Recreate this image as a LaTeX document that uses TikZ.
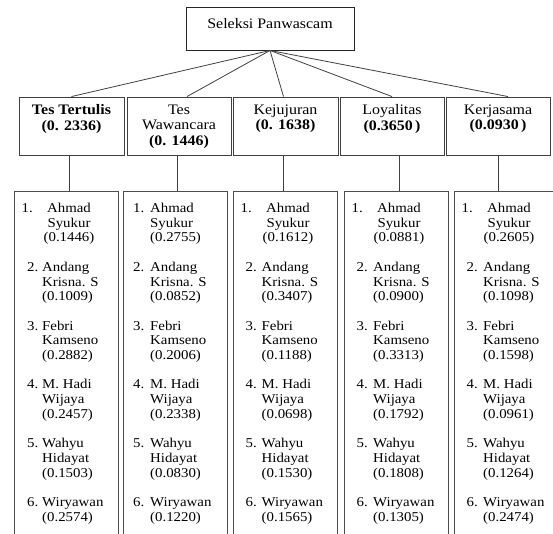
\documentclass[tikz,border=0pt]{standalone}
\usepackage{fontspec}
\setmainfont{Liberation Serif}[FakeStretch=1.1]
\usetikzlibrary{calc}
\tikzset{
  topbox/.style={draw=black!85, line width=0.9pt, inner sep=0pt, minimum width=168pt, minimum height=43pt},
  critbox/.style={draw=black!75, line width=0.9pt, inner sep=0pt, minimum height=58pt},
  listbox/.style={draw=black!70, line width=1.3pt, inner sep=0pt, minimum width=104pt, minimum height=360pt, anchor=north west},
  conn/.style={draw=black!75, line width=0.8pt},
  crittext/.style={inner sep=0pt, align=center, anchor=north, font=\fontsize{14.5}{15.5}\selectfont},
  lt/.style={inner sep=0pt, font=\fontsize{13.5}{16}\selectfont}
}
% items from a start index, 3 lines each
\newcommand\colitems[6]{%
  \foreach \a/\b/\cc [count=\i from #5] in {#6} {
    \pgfmathsetmacro\yy{212.5+(\i-1)*58.8}
    \node[lt, anchor=base west] (c#1n\i) at (#2+#3,\yy) {\i.};
    \node[lt, anchor=base west] (c#1a\i) at (#2+#4,\yy) {\a};
    \node[lt, anchor=base west] (c#1b\i) at (#2+#4,\yy+14.7) {\b};
    \node[lt, anchor=base west] (c#1c\i) at (#2+#4,\yy+29.4) {\cc};
  }%
}
\newcommand\firstcentered[5]{%
  \node[lt, anchor=base west] (c#1n1) at (#2+7.5,212.5) {1.};
  \node[lt, anchor=base] (c#1a1) at (#2+55,212.5) {#3};
  \node[lt, anchor=base] (c#1b1) at (#2+55,227.2) {#4};
  \node[lt, anchor=base] (c#1c1) at (#2+55,241.9) {#5};
}
\newcommand\lastitem[5]{%
  \node[lt, anchor=base west] (c#1n6) at (#2+#3,506.5) {6.};
  \node[lt, anchor=base west] (c#1a6) at (#2+#4,506.5) {Wiryawan};
  \node[lt, anchor=base west] (c#1b6) at (#2+#4,521.2) {#5};
}
\begin{document}
\begin{tikzpicture}[x=1pt,y=-1pt]
\clip (0,0) rectangle (553,533);
\useasboundingbox (0,0) rectangle (553,533);

% top
\node[topbox] (top) at (270,28.5) {};
\node[crittext, font=\fontsize{14.5}{15.5}\selectfont] (toptext) at ($(top.north)+(0,12)$) {Seleksi Panwascam};

% criteria boxes
\node[critbox, minimum width=105pt] (k1) at (71.5,126) {};
\node[critbox, minimum width=104pt] (k2) at (179,126) {};
\node[critbox, minimum width=105pt] (k3) at (285.5,126) {};
\node[critbox, minimum width=104pt] (k4) at (392,126) {};
\node[critbox, minimum width=104pt] (k5) at (498,126) {};

\node[crittext] (kt1) at ($(k1.north)+(0,8)$) {\bfseries Tes Tertulis\\\bfseries (0. 2336)};
\node[crittext] (kt2) at ($(k2.north)+(0,8)$) {Tes\\Wawancara\\\bfseries (0. 1446)};
\node[crittext] (kt3) at ($(k3.north)+(0,8)$) {Kejujuran\\\bfseries (0. 1638)};
\node[crittext] (kt4) at ($(k4.north)+(0,8)$) {Loyalitas\\\bfseries (0.3650\,)};
\node[crittext] (kt5) at ($(k5.north)+(0,8)$) {Kerjasama\\\bfseries (0.0930\,)};

% connectors from top
\draw[conn] (top.south) -- (k1.north);
\draw[conn] (top.south) -- ($(k2.north)+(8,0)$);
\draw[conn] (top.south) -- ($(k3.north)+(-2,0)$);
\draw[conn] (top.south) -- (k4.north);
\draw[conn] (top.south) -- ($(k5.north)+(10,0)$);

% list boxes
\node[listbox] (l1) at (14,191) {};
\node[listbox] (l2) at (123,191) {};
\node[listbox] (l3) at (233,191) {};
\node[listbox] (l4) at (344,191) {};
\node[listbox] (l5) at (454,191) {};

% vertical connectors
\coordinate (v1) at ($(k1.south)+(-2.5,0)$);
\coordinate (v2) at ($(k2.south)+(-2,0)$);
\coordinate (v3) at ($(k3.south)+(-2.5,0)$);
\coordinate (v4) at ($(k4.south)+(7,0)$);
\coordinate (v5) at ($(k5.south)+(0,0)$);
\draw[conn] (v1) -- (v1 |- l1.north);
\draw[conn] (v2) -- (v2 |- l2.north);
\draw[conn] (v3) -- (v3 |- l3.north);
\draw[conn] (v4) -- (v4 |- l4.north);
\draw[conn] (v5) -- (v5 |- l5.north);

% column 1
\firstcentered{1}{14}{Ahmad}{Syukur}{(0.1446)}
\colitems{1}{14}{13}{28}{2}{Andang/Krisna. S/(0.1009), Febri/Kamseno/(0.2882), M. Hadi/Wijaya/(0.2457), Wahyu/Hidayat/(0.1503)}
\lastitem{1}{14}{13}{28}{(0.2574)}

% column 2
\colitems{2}{123}{10}{27}{1}{Ahmad/Syukur/(0.2755), Andang/Krisna. S/(0.0852), Febri/Kamseno/(0.2006), M. Hadi/Wijaya/(0.2338), Wahyu/Hidayat/(0.0830)}
\lastitem{2}{123}{10}{27}{(0.1220)}

% column 3
\firstcentered{3}{233}{Ahmad}{Syukur}{(0.1612)}
\colitems{3}{233}{12.5}{28.5}{2}{Andang/Krisna. S/(0.3407), Febri/Kamseno/(0.1188), M. Hadi/Wijaya/(0.0698), Wahyu/Hidayat/(0.1530)}
\lastitem{3}{233}{12.5}{28.5}{(0.1565)}

% column 4
\firstcentered{4}{344}{Ahmad}{Syukur}{(0.0881)}
\colitems{4}{344}{12.5}{29}{2}{Andang/Krisna. S/(0.0900), Febri/Kamseno/(0.3313), M. Hadi/Wijaya/(0.1792), Wahyu/Hidayat/(0.1808)}
\lastitem{4}{344}{12.5}{29}{(0.1305)}

% column 5
\firstcentered{5}{454}{Ahmad}{Syukur}{(0.2605)}
\colitems{5}{454}{12.5}{29}{2}{Andang/Krisna. S/(0.1098), Febri/Kamseno/(0.1598), M. Hadi/Wijaya/(0.0961), Wahyu/Hidayat/(0.1264)}
\lastitem{5}{454}{12.5}{29}{(0.2474)}
\end{tikzpicture}
\end{document}
